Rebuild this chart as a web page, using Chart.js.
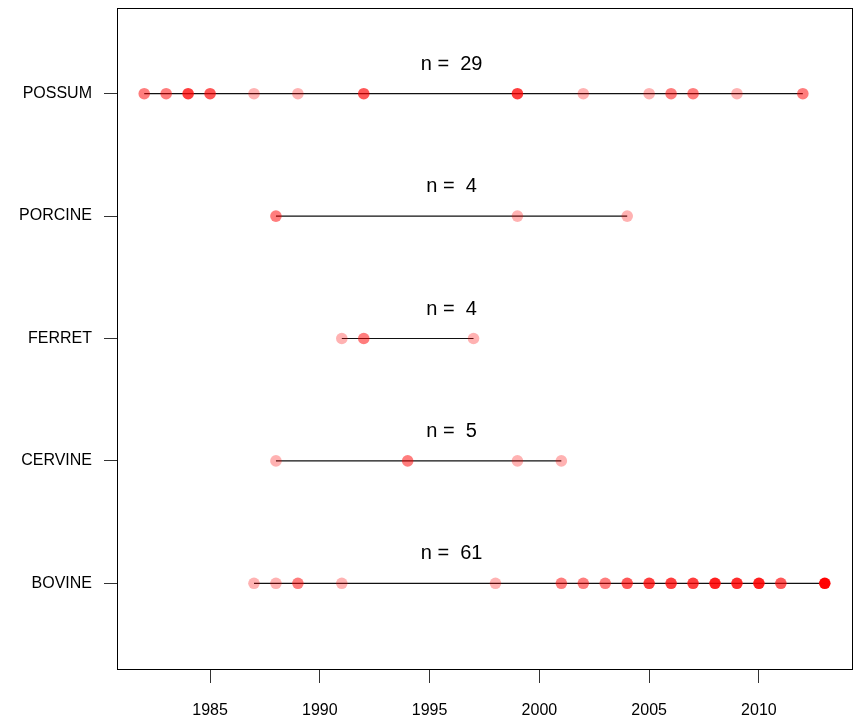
<!DOCTYPE html>
<html>
<head>
<meta charset="utf-8">
<script src="https://cdn.jsdelivr.net/npm/chart.js@4/dist/chart.umd.min.js"></script>
<style>
  html, body { margin: 0; padding: 0; background: #fff; }
  #wrap { width: 859px; height: 721px; position: relative; }
</style>
</head>
<body>
<div id="wrap"><canvas id="c" width="859" height="721"></canvas></div>
<script>
// ---- data ----
const categories = ['BOVINE', 'CERVINE', 'FERRET', 'PORCINE', 'POSSUM'];

const bovineYears  = [1987, 1988, 1989, 1991, 1998, 2001, 2002, 2003, 2004, 2005, 2006, 2007, 2008, 2009, 2010, 2011, 2013];
const bovineCounts = [1, 1, 2, 1, 1, 2, 2, 2, 3, 4, 4, 4, 6, 5, 6, 3, 14];

const cervineYears  = [1988, 1994, 1999, 2001];
const cervineCounts = [1, 2, 1, 1];

const ferretYears  = [1991, 1992, 1997];
const ferretCounts = [1, 2, 1];

const porcineYears  = [1988, 1999, 2004];
const porcineCounts = [2, 1, 1];

const possumYears  = [1982, 1983, 1984, 1985, 1987, 1989, 1992, 1999, 2002, 2005, 2006, 2007, 2009, 2012];
const possumCounts = [2, 2, 4, 3, 1, 1, 3, 4, 1, 1, 2, 2, 1, 2];

const xTicks = [1985, 1990, 1995, 2000, 2005, 2010];
const xMin = 1980.76, xMax = 2014.24;
const yMin = 0.3, yMax = 5.7;

const groups = [
  { years: bovineYears,  counts: bovineCounts },
  { years: cervineYears, counts: cervineCounts },
  { years: ferretYears,  counts: ferretCounts },
  { years: porcineYears, counts: porcineCounts },
  { years: possumYears,  counts: possumCounts }
];

const ALPHA = 0.3; // per-point transparency, overlapping records stack
function colorFor(count) {
  const a = 1 - Math.pow(1 - ALPHA, count);
  return 'rgba(255,0,0,' + a.toFixed(3) + ')';
}

const FONT = "'Liberation Sans', Arial, Helvetica, sans-serif";

const datasets = [];
groups.forEach((g, i) => {
  const yv = i + 1;
  datasets.push({
    type: 'scatter',
    label: categories[i] + ' range',
    data: [{ x: Math.min(...g.years), y: yv }, { x: Math.max(...g.years), y: yv }],
    showLine: true,
    borderColor: '#111',
    borderWidth: 1.2,
    pointRadius: 0,
    pointHoverRadius: 0,
    order: 2
  });
  datasets.push({
    type: 'scatter',
    label: categories[i],
    data: g.years.map((yr) => ({ x: yr, y: yv })),
    backgroundColor: g.counts.map(colorFor),
    borderWidth: 0,
    pointRadius: 5.8,
    pointHoverRadius: 5.8,
    order: 1
  });
});

const framePlugin = {
  id: 'frameAndLabels',
  afterDatasetsDraw(chart) {
    const { ctx, chartArea: a, scales } = chart;
    ctx.save();
    ctx.strokeStyle = '#000';
    ctx.lineWidth = 1;
    ctx.strokeRect(Math.round(a.left) + 0.5, Math.round(a.top) + 0.5,
                   Math.round(a.right - a.left), Math.round(a.bottom - a.top));
    ctx.fillStyle = '#000';
    ctx.font = '20px ' + FONT;
    ctx.textAlign = 'center';
    ctx.textBaseline = 'middle';
    groups.forEach((g, i) => {
      const n = g.counts.reduce((s, v) => s + v, 0);
      const px = scales.x.getPixelForValue(1996);
      const py = scales.y.getPixelForValue(i + 1 + 0.24);
      ctx.fillText('n =  ' + n, px, py);
    });
    ctx.restore();
  }
};

new Chart(document.getElementById('c'), {
  type: 'scatter',
  data: { datasets },
  options: {
    responsive: false,
    animation: false,
    events: [],
    layout: { padding: { left: 0, top: 8, right: 7, bottom: 0 } },
    plugins: { legend: { display: false }, tooltip: { enabled: false } },
    scales: {
      x: {
        type: 'linear',
        min: xMin,
        max: xMax,
        afterBuildTicks: (s) => { s.ticks = xTicks.map((v) => ({ value: v })); },
        afterFit: (s) => { s.height = 52; s.paddingLeft = 0; s.paddingRight = 0; },
        grid: { drawOnChartArea: false, drawTicks: true, tickLength: 14, color: '#333', lineWidth: 1 },
        border: { display: false },
        ticks: {
          color: '#000',
          font: { family: FONT, size: 16 },
          padding: 18,
          maxRotation: 0,
          autoSkip: false,
          callback: (v) => String(v)
        }
      },
      y: {
        type: 'linear',
        min: yMin,
        max: yMax,
        afterBuildTicks: (s) => { s.ticks = categories.map((c, i) => ({ value: i + 1 })); },
        afterFit: (s) => { s.width = 117; s.paddingTop = 0; s.paddingBottom = 0; },
        grid: { drawOnChartArea: false, drawTicks: true, tickLength: 13, color: '#333', lineWidth: 1 },
        border: { display: false },
        ticks: {
          color: '#000',
          font: { family: FONT, size: 16 },
          padding: 12,
          autoSkip: false,
          callback: (v) => categories[Math.round(v) - 1] || ''
        }
      }
    }
  },
  plugins: [framePlugin]
});
</script>
</body>
</html>
